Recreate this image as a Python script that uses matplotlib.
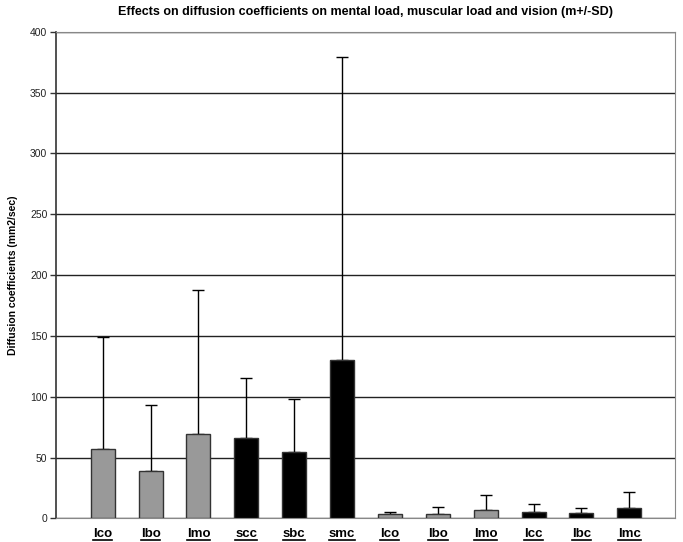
import matplotlib.pyplot as plt
from matplotlib.lines import Line2D
import numpy as np

plt.rcParams['font.family'] = ['Liberation Sans', 'DejaVu Sans']

# data
labels = ['lco', 'lbo', 'lmo', 'scc', 'sbc', 'smc',
          'lco', 'lbo', 'lmo', 'lcc', 'lbc', 'lmc']
means = [57, 39, 69, 66, 54.5, 130.5,
         3.3, 3.8, 6.8, 5.2, 4.1, 8.2]
upper = [149, 93, 188, 115, 98.5, 379.5,
         5.5, 9.0, 19.4, 11.5, 8.2, 21.4]
sd = [u - m for u, m in zip(upper, means)]
colors = ['#999999'] * 3 + ['#000000'] * 3 + ['#999999'] * 3 + ['#000000'] * 3

fig = plt.figure(figsize=(6.83, 5.42), dpi=100)
ax = fig.add_axes([0.0816, 0.0435, 0.9064, 0.898])

x = np.arange(len(labels))
ax.bar(x, means, width=0.5, color=colors, edgecolor='#333333', linewidth=1, zorder=3)
ax.errorbar(x, means, yerr=[np.zeros(len(sd)), sd], fmt='none', ecolor='black',
            elinewidth=1, capsize=4, capthick=1, zorder=2)

ax.set_xlim(-0.98, 11.95)
ax.set_ylim(0, 400)
ax.set_yticks(np.arange(0, 401, 50))
ax.yaxis.grid(True, color='#222222', linewidth=1)
ax.set_axisbelow(True)

ax.set_xticks(x)
ax.set_xticklabels(labels, fontsize=9.5, fontweight='bold')
ax.tick_params(axis='x', length=0, pad=7)
ax.tick_params(axis='y', length=4, width=1, color='#333333', labelsize=7.5,
               labelcolor='#222222', pad=2)

for side in ['top', 'right', 'bottom']:
    ax.spines[side].set_color('#888888')
ax.spines['left'].set_color('#333333')
ax.spines['left'].set_linewidth(1.2)

ax.set_ylabel('Diffusion coefficients (mm2/sec)', fontsize=7.5, fontweight='bold', labelpad=9)
ax.set_title('Effects on diffusion coefficients on mental load, muscular load and vision (m+/-SD)',
             fontsize=9, fontweight='bold', pad=12)

# underline the category labels
fig.canvas.draw()
inv = fig.transFigure.inverted()
for lab in ax.get_xticklabels():
    bb = lab.get_window_extent()
    (x0, y0), (x1, y1) = inv.transform([(bb.x0, bb.y0 + 0.5), (bb.x1, bb.y0 + 0.5)])
    fig.add_artist(Line2D([x0, x1], [y0, y1], color='black', linewidth=1.2, transform=fig.transFigure))

fig.savefig('out.png', dpi=100)
